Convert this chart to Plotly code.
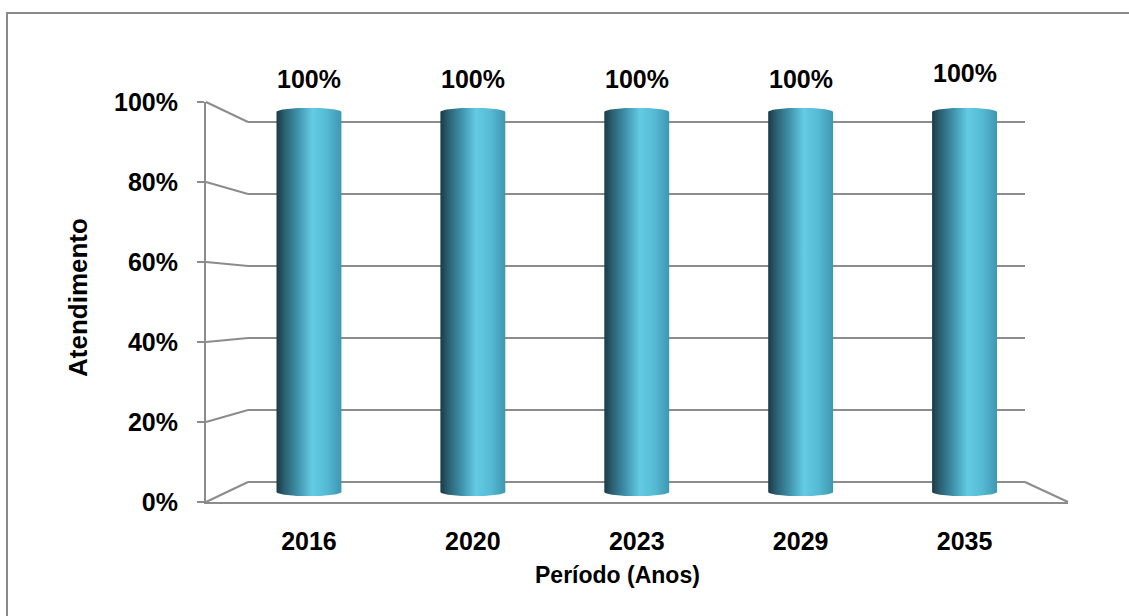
import numpy as np
import plotly.graph_objects as go

# ---------------- data ----------------
years = ["2016", "2020", "2023", "2029", "2035"]
atendimento = [1.0, 1.0, 1.0, 1.0, 1.0]
y_tick_vals = [0, 0.2, 0.4, 0.6, 0.8, 1.0]
value_labels = ["100%", "100%", "100%", "100%", "100%"]

# ---------------- style / geometry ----------------
W, H = 1129, 616
FONT = "Liberation Sans, Arial, sans-serif"
GRAY = "#8c8c8c"
label_lift = [33, 33, 33, 33, 39]  # px offset of value labels above bar tops


def fnt(size):
    return dict(family=FONT, size=size, color="#000000", weight=700)


def PX(x):
    return x / W


def PY(y):
    return 1 - y / H


# front plane (axis), back wall, and middle plane (cylinders) in px
F_L, F_R, F_0, F_1 = 206, 1068, 502, 102
B_L, B_R, B_0, B_1 = 248, 1025, 482, 122
M_L, M_R, M_0, M_1 = 227, 1046.5, 492, 112


def front_y(v):
    return F_0 - (F_0 - F_1) * v


def back_y(v):
    return B_0 - (B_0 - B_1) * v


fig = go.Figure()

# --- back wall subplot (x, y): gridlines ---
pad_b = 0.05
bspan = B_0 - B_1
fig.add_trace(go.Scatter(x=[0], y=[0], mode="markers", marker=dict(opacity=0),
                         xaxis="x", yaxis="y", hoverinfo="skip", showlegend=False))

# --- front axis subplot (x2, y2) ---
fig.add_trace(go.Scatter(x=[0], y=[0], mode="markers", marker=dict(opacity=0),
                         xaxis="x2", yaxis="y2", hoverinfo="skip", showlegend=False))

# --- cylinders subplot (x3, y3) ---
half_w = 0.198
ry = 0.011
colorscale = [[0.0, "#1c3a46"], [0.12, "#2a5f70"], [0.3, "#3b8ca4"],
              [0.55, "#64cbe5"], [0.78, "#55b9d3"], [1.0, "#3e97b1"]]
for i, v in enumerate(atendimento):
    tb = np.linspace(np.pi, 2 * np.pi, 40)
    tt = np.linspace(0, np.pi, 40)
    xs = np.concatenate([i + half_w * np.cos(tb), i + half_w * np.cos(tt)])
    ys = np.concatenate([ry * np.sin(tb), v + ry * np.sin(tt)])
    fig.add_trace(go.Scatter(
        x=xs, y=ys, mode="lines", fill="toself",
        line=dict(width=0, color="rgba(0,0,0,0)"),
        fillgradient=dict(type="horizontal", colorscale=colorscale),
        xaxis="x3", yaxis="y3", hoverinfo="skip", showlegend=False))

annotations = []
for i, v in enumerate(atendimento):
    annotations.append(dict(
        x=i, y=v, xref="x3", yref="y3", text=value_labels[i], showarrow=False,
        yshift=label_lift[i], yanchor="middle", font=fnt(25)))

annotations.append(dict(
    x=PX(78), y=PY(298), xref="paper", yref="paper", text="Atendimento",
    textangle=-90, showarrow=False, xanchor="center", yanchor="middle", font=fnt(26)))
annotations.append(dict(
    x=PX(617), y=PY(575), xref="paper", yref="paper", text="Período (Anos)",
    showarrow=False, xanchor="center", yanchor="middle", font=fnt(23)))

shapes = []
# perspective connectors from front axis ticks to back wall gridlines
for v in y_tick_vals:
    shapes.append(dict(type="line", xref="paper", yref="paper",
                       x0=PX(F_L), y0=PY(front_y(v)), x1=PX(B_L), y1=PY(back_y(v)),
                       line=dict(color=GRAY, width=2)))
# floor right edge
shapes.append(dict(type="line", xref="paper", yref="paper",
                   x0=PX(B_R), y0=PY(back_y(0)), x1=PX(F_R), y1=PY(front_y(0)),
                   line=dict(color=GRAY, width=2)))
# outer chart border
shapes.append(dict(type="rect", xref="paper", yref="paper",
                   x0=PX(7), y0=PY(13), x1=1.05, y1=-0.05,
                   line=dict(color="#8a8a8a", width=2), fillcolor="rgba(0,0,0,0)"))

# cylinders axis range with padding
c_lo, c_hi = -0.085, 1.1
mspan = M_0 - M_1
c_dom_bottom = M_0 + (0 - c_lo) * mspan
c_dom_top = M_1 - (c_hi - 1) * mspan

fig.update_layout(
    width=W, height=H,
    margin=dict(l=0, r=0, t=0, b=0, autoexpand=False),
    paper_bgcolor="white", plot_bgcolor="rgba(0,0,0,0)",
    showlegend=False,
    xaxis=dict(domain=[PX(B_L), PX(B_R)], range=[0, 1], visible=False,
               automargin=False, fixedrange=True),
    yaxis=dict(anchor="x", domain=[PY(B_0 + pad_b * bspan), PY(B_1 - pad_b * bspan)],
               range=[-pad_b, 1 + pad_b], tickvals=y_tick_vals, showgrid=True,
               gridcolor=GRAY, gridwidth=2, zeroline=False, showticklabels=False,
               ticks="", showline=False, automargin=False, fixedrange=True),
    xaxis2=dict(anchor="y2", domain=[PX(F_L), PX(F_R)], range=[0, 1], showgrid=False,
                zeroline=False, showticklabels=False, ticks="", showline=True,
                linecolor=GRAY, linewidth=2, automargin=False, fixedrange=True),
    yaxis2=dict(anchor="x2", domain=[PY(F_0), PY(F_1)], range=[0, 1],
                tickvals=y_tick_vals, tickformat=".0%", showgrid=False, zeroline=False,
                showline=True, linecolor=GRAY, linewidth=2, ticks="outside",
                ticklen=7, tickwidth=2, tickcolor=GRAY, ticklabelstandoff=14,
                tickfont=fnt(25), automargin=False, fixedrange=True),
    xaxis3=dict(anchor="y3", domain=[PX(M_L), PX(M_R)], range=[-0.5, len(years) - 0.5],
                tickvals=list(range(len(years))), ticktext=years, showgrid=False,
                zeroline=False, showline=False, ticks="",
                tickfont=fnt(25), automargin=False, fixedrange=True),
    yaxis3=dict(anchor="x3", domain=[PY(c_dom_bottom), PY(c_dom_top)], range=[c_lo, c_hi],
                visible=False, automargin=False, fixedrange=True),
    annotations=annotations,
    shapes=shapes,
)

fig.write_html("out.html")
